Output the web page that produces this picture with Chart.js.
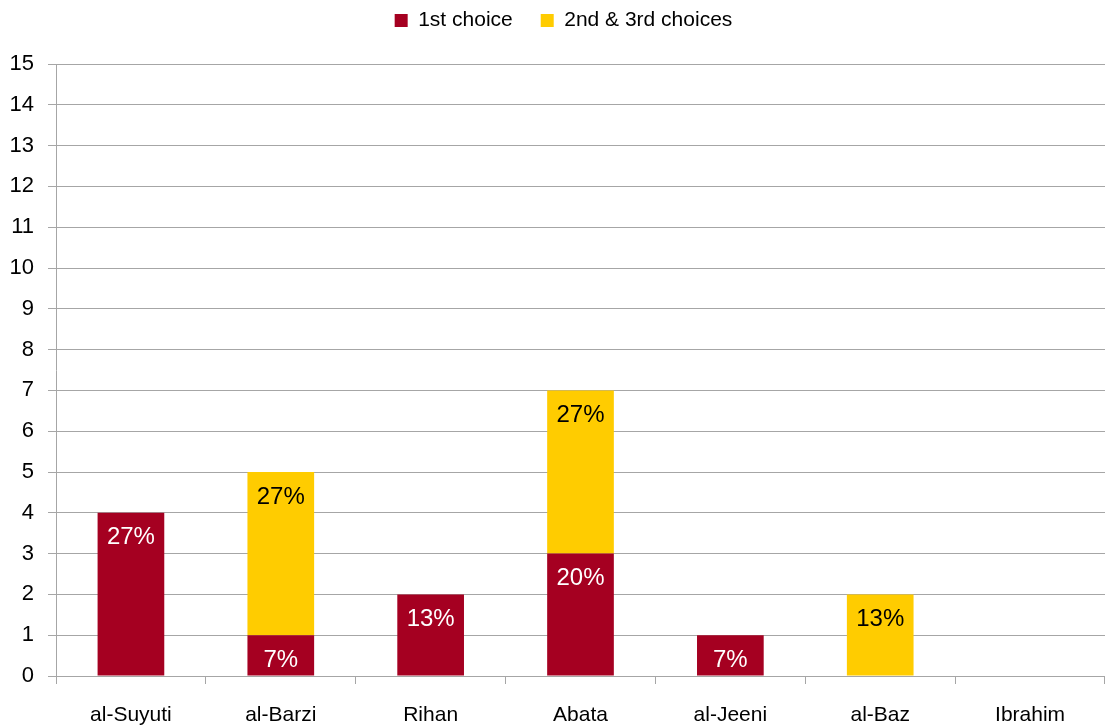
<!DOCTYPE html>
<html>
<head>
<meta charset="utf-8">
<script src="https://cdn.jsdelivr.net/npm/chart.js@4/dist/chart.umd.min.js"></script>
<style>
  html, body { margin: 0; padding: 0; background: #fff; }
  #wrap { width: 1105px; height: 726px; position: relative; }
</style>
</head>
<body>
<div id="wrap"><canvas id="c"></canvas></div>
<script>
// Candidates and vote counts
const categories = ['al-Suyuti', 'al-Barzi', 'Rihan', 'Abata', 'al-Jeeni', 'al-Baz', 'Ibrahim'];
const firstChoice = [4, 1, 2, 3, 1, 0, 0];
const laterChoices = [0, 4, 0, 4, 0, 2, 0];
const respondents = 15;
const yTicks = [0, 1, 2, 3, 4, 5, 6, 7, 8, 9, 10, 11, 12, 13, 14, 15];

const RED = '#A50021';
const YELLOW = '#FFCC00';
const GRID = '#A6A6A6';
const FONT = "'Liberation Sans', Arial, sans-serif";

// Percentage labels drawn near the top of each stacked segment
const segmentLabels = {
  id: 'segmentLabels',
  afterDatasetsDraw(chart) {
    const ctx = chart.ctx;
    ctx.save();
    ctx.font = '24px ' + FONT;
    ctx.textAlign = 'center';
    ctx.textBaseline = 'middle';
    chart.data.datasets.forEach((ds, di) => {
      const meta = chart.getDatasetMeta(di);
      meta.data.forEach((bar, i) => {
        const v = ds.data[i];
        if (!v) return;
        const pct = Math.round(v / respondents * 100) + '%';
        ctx.fillStyle = di === 0 ? '#FFFFFF' : '#000000';
        ctx.fillText(pct, bar.x, bar.y + 25);
      });
    });
    ctx.restore();
  }
};

// Extra room under the legend, and a slight nudge of the legend to the right
const legendTweak = {
  id: 'legendTweak',
  afterInit(chart) {
    const legend = chart.legend;
    if (!legend) return;
    const fit = legend.fit;
    legend.fit = function () {
      fit.call(this);
      this.height += 23;
    };
  },
  afterLayout(chart) {
    if (chart.legend) chart.legend.left += 22;
  }
};

new Chart(document.getElementById('c'), {
  type: 'bar',
  data: {
    labels: categories,
    datasets: [
      { label: '1st choice', data: firstChoice, backgroundColor: RED },
      { label: '2nd & 3rd choices', data: laterChoices, backgroundColor: YELLOW }
    ]
  },
  options: {
    responsive: true,
    maintainAspectRatio: false,
    animation: false,
    layout: { padding: { left: 0, right: 0, top: -18, bottom: 0 } },
    plugins: {
      legend: {
        position: 'top',
        labels: {
          font: { family: FONT, size: 21 },
          color: '#000',
          boxWidth: 13,
          boxHeight: 13,
          padding: 28
        }
      },
      tooltip: { enabled: false }
    },
    datasets: {
      bar: { barPercentage: 0.445, categoryPercentage: 1.0 }
    },
    scales: {
      x: {
        stacked: true,
        offset: true,
        grid: {
          offset: true,
          drawOnChartArea: false,
          drawTicks: true,
          tickLength: 8,
          color: GRID
        },
        border: { color: GRID, width: 1 },
        ticks: {
          font: { family: FONT, size: 21 },
          color: '#000',
          padding: 19,
          maxRotation: 0
        },
        afterFit(scale) { scale.height = 50; }
      },
      y: {
        stacked: true,
        min: 0,
        max: 15,
        afterBuildTicks(scale) { scale.ticks = yTicks.map(v => ({ value: v })); },
        grid: { color: GRID, tickLength: 8, lineWidth: 1 },
        border: { color: GRID, width: 1 },
        ticks: {
          font: { family: FONT, size: 22 },
          color: '#000',
          padding: 14
        },
        afterFit(scale) { scale.width = 56; }
      }
    }
  },
  plugins: [segmentLabels, legendTweak]
});
</script>
</body>
</html>
